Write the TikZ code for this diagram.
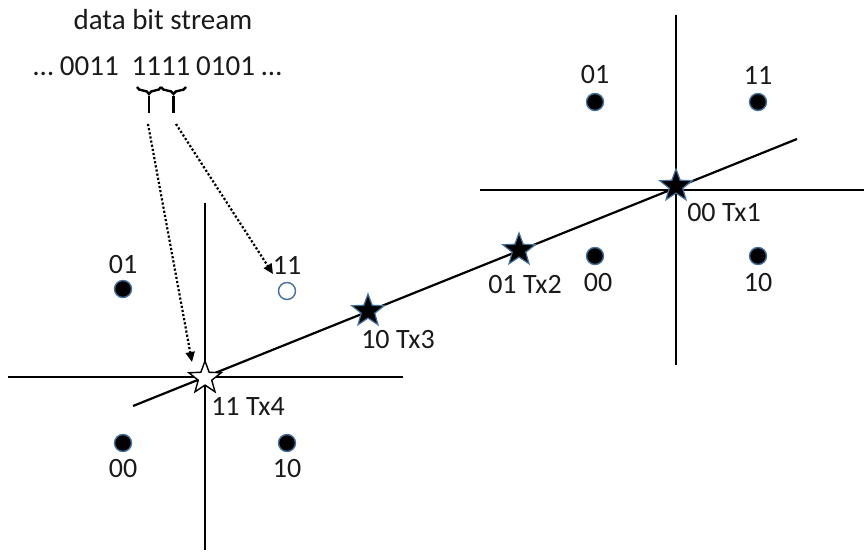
\documentclass[tikz,border=0pt]{standalone}
\usepackage{fontspec}
\setmainfont{Carlito}
\usetikzlibrary{shapes.geometric,arrows.meta,decorations.pathreplacing}
\definecolor{dotblue}{HTML}{41719C}
\definecolor{txt}{HTML}{1A1A1A}
\begin{document}
\begin{tikzpicture}[x=1pt,y=-1pt,
  axis/.style={line width=2.8pt,black},
  diag/.style={line width=2.2pt,black},
  lbl/.style={inner sep=0pt,text=txt,font=\fontsize{28}{33}\selectfont},
  ttl/.style={inner sep=0pt,text=txt,font=\fontsize{29}{34}\selectfont},
  bitsty/.style={inner sep=0pt,text=txt,font=\fontsize{29}{34}\selectfont},
  pt/.style={circle,fill=black,draw=dotblue,line width=1.4pt,minimum size=17pt,inner sep=0pt},
  hollow/.style={circle,fill=white,draw=dotblue,line width=1.4pt,minimum size=17pt,inner sep=0pt},
  txstar/.style={star,star points=5,star point ratio=2.4,minimum size=34pt,inner sep=0pt,fill=black,draw=dotblue,line width=1.2pt},
  txhollow/.style={star,star points=5,star point ratio=2.4,minimum size=34pt,inner sep=0pt,fill=white,draw=black,line width=1.4pt},
  darr/.style={dotted,line width=2.2pt,-{Triangle[length=10pt,width=9pt]}},
  brc/.style={line width=2.4pt,decorate,decoration={brace,mirror,amplitude=7pt}}]
\useasboundingbox (0,0) rectangle (864,554);
% axes
\coordinate (lt) at (205,203); \coordinate (lb) at (205,550);
\coordinate (ll) at (8,377); \coordinate (lr) at (403,377);
\coordinate (rt) at (676,15); \coordinate (rb) at (676,365);
\coordinate (rl) at (480,190); \coordinate (rr) at (864,190);
\draw[axis] (lt) -- (lb);
\draw[axis] (ll) -- (lr);
\draw[axis] (rt) -- (rb);
\draw[axis] (rl) -- (rr);
% diagonal
\coordinate (d1) at (133,406); \coordinate (d2) at (797,139);
\draw[diag] (d1) -- (d2);
% stars
\node[txhollow] (tx4) at (205,378) {};
\node[txstar] (tx3) at (368,311) {};
\node[txstar] (tx2) at (519,250) {};
\node[txstar] (tx1) at (676,186) {};
\node[lbl] (l4) at (248,406) {11 Tx4};
\node[lbl] (l3) at (398,340) {10 Tx3};
\node[lbl] (l2) at (525,285) {01 Tx2};
\node[lbl] (l1) at (724,213) {00 Tx1};
% left constellation
\node[pt] (a01) at (123,289) {};
\node[lbl] (a01l) at (123,265) {01};
\node[hollow] (a11) at (287,291) {};
\node[lbl] (a11l) at (287,265) {11};
\node[pt] (a00) at (123,443) {};
\node[lbl] (a00l) at (123,469) {00};
\node[pt] (a10) at (287,443) {};
\node[lbl] (a10l) at (287,469) {10};
% right constellation
\node[pt] (b01) at (595,102) {};
\node[lbl] (b01l) at (595,75) {01};
\node[pt] (b11) at (758,102) {};
\node[lbl] (b11l) at (758,75) {11};
\node[pt] (b00) at (595,256) {};
\node[lbl] (b00l) at (598,283) {00};
\node[pt] (b10) at (758,256) {};
\node[lbl] (b10l) at (758,283) {10};
% bit stream
\node[ttl] (title) at (163,20) {data bit stream};
\node[bitsty,anchor=base east] (bitsL) at (119,75) {\dots{} 0011};
\node[bitsty,anchor=base] (bitsM) at (161,75) {1111};
\node[bitsty,anchor=base west] (bitsR) at (196,75) {0101 \dots};
\coordinate (br1a) at (137,87); \coordinate (br1b) at (161,87);
\coordinate (br2a) at (161,87); \coordinate (br2b) at (186,87);
\draw[brc] (br1a) -- (br1b);
\draw[brc] (br2a) -- (br2b);
\coordinate (s1a) at (149,96); \coordinate (s1b) at (149,113);
\coordinate (s2a) at (173.5,96); \coordinate (s2b) at (173.5,113);
\draw[line width=2.4pt] (s1a) -- (s1b);
\draw[line width=2.4pt] (s2a) -- (s2b);
\coordinate (ar1) at (148,124); \coordinate (ar2) at (176,124);
\coordinate (h1) at (192,362); \coordinate (h2) at (273,274);
\draw[darr] (ar1) -- (h1);
\draw[darr] (ar2) -- (h2);
\end{tikzpicture}
\end{document}
